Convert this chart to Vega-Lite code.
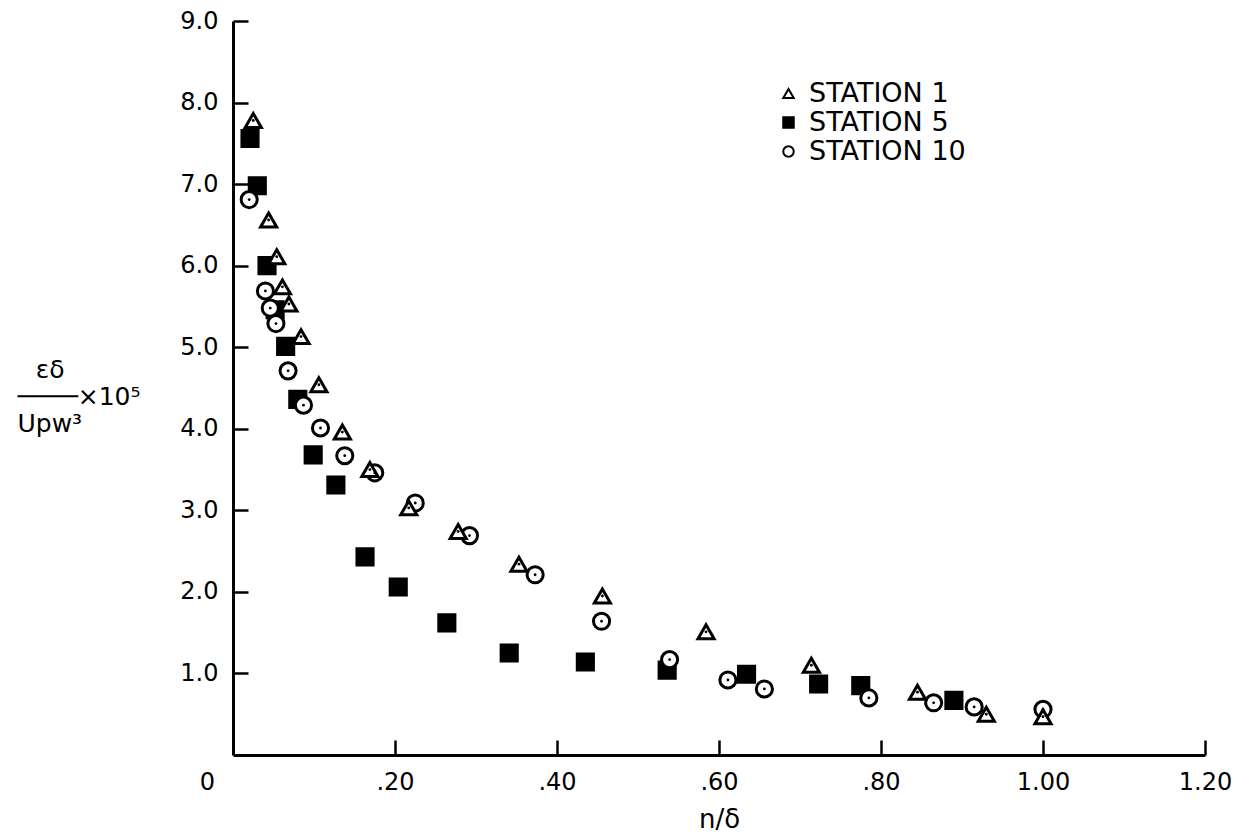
{
  "$schema": "https://vega.github.io/schema/vega-lite/v6.json",
  "width": 972,
  "height": 734,
  "autosize": {"type": "none"},
  "padding": {"left": 233, "top": 21, "right": 38, "bottom": 81},
  "background": "white",
  "config": {
    "view": {"stroke": null},
    "font": "DejaVu Sans",
    "axis": {"grid": false, "domainColor": "black", "tickColor": "black", "labelColor": "black", "titleColor": "black", "domainWidth": 3, "tickWidth": 2.5, "tickSize": 15, "labelFontSize": 24, "labelPadding": 15, "titleFontWeight": "normal", "labelOverlap": false, "labelFlush": false}
  },
  "data": {
    "values": [
      {"station": "STATION 5", "x": 0.021, "y": 7.56},
      {"station": "STATION 5", "x": 0.030, "y": 6.98},
      {"station": "STATION 5", "x": 0.042, "y": 6.00},
      {"station": "STATION 5", "x": 0.052, "y": 5.46},
      {"station": "STATION 5", "x": 0.065, "y": 5.01},
      {"station": "STATION 5", "x": 0.080, "y": 4.36},
      {"station": "STATION 5", "x": 0.099, "y": 3.68},
      {"station": "STATION 5", "x": 0.127, "y": 3.31},
      {"station": "STATION 5", "x": 0.163, "y": 2.43},
      {"station": "STATION 5", "x": 0.204, "y": 2.06},
      {"station": "STATION 5", "x": 0.264, "y": 1.62},
      {"station": "STATION 5", "x": 0.341, "y": 1.25},
      {"station": "STATION 5", "x": 0.435, "y": 1.14},
      {"station": "STATION 5", "x": 0.536, "y": 1.04},
      {"station": "STATION 5", "x": 0.634, "y": 0.99},
      {"station": "STATION 5", "x": 0.723, "y": 0.87},
      {"station": "STATION 5", "x": 0.775, "y": 0.85},
      {"station": "STATION 5", "x": 0.890, "y": 0.67},
      {"station": "STATION 10", "x": 0.020, "y": 6.81},
      {"station": "STATION 10", "x": 0.040, "y": 5.69},
      {"station": "STATION 10", "x": 0.046, "y": 5.48},
      {"station": "STATION 10", "x": 0.053, "y": 5.29},
      {"station": "STATION 10", "x": 0.068, "y": 4.71},
      {"station": "STATION 10", "x": 0.087, "y": 4.29},
      {"station": "STATION 10", "x": 0.108, "y": 4.01},
      {"station": "STATION 10", "x": 0.138, "y": 3.67},
      {"station": "STATION 10", "x": 0.175, "y": 3.46},
      {"station": "STATION 10", "x": 0.225, "y": 3.09},
      {"station": "STATION 10", "x": 0.292, "y": 2.69},
      {"station": "STATION 10", "x": 0.373, "y": 2.21},
      {"station": "STATION 10", "x": 0.455, "y": 1.64},
      {"station": "STATION 10", "x": 0.539, "y": 1.17},
      {"station": "STATION 10", "x": 0.611, "y": 0.92},
      {"station": "STATION 10", "x": 0.656, "y": 0.81},
      {"station": "STATION 10", "x": 0.785, "y": 0.70},
      {"station": "STATION 10", "x": 0.865, "y": 0.64},
      {"station": "STATION 10", "x": 0.915, "y": 0.59},
      {"station": "STATION 10", "x": 1.000, "y": 0.56},
      {"station": "STATION 1", "x": 0.025, "y": 7.78},
      {"station": "STATION 1", "x": 0.044, "y": 6.56},
      {"station": "STATION 1", "x": 0.054, "y": 6.11},
      {"station": "STATION 1", "x": 0.061, "y": 5.74},
      {"station": "STATION 1", "x": 0.069, "y": 5.53},
      {"station": "STATION 1", "x": 0.084, "y": 5.13},
      {"station": "STATION 1", "x": 0.106, "y": 4.54},
      {"station": "STATION 1", "x": 0.135, "y": 3.96},
      {"station": "STATION 1", "x": 0.169, "y": 3.50},
      {"station": "STATION 1", "x": 0.217, "y": 3.03},
      {"station": "STATION 1", "x": 0.278, "y": 2.74},
      {"station": "STATION 1", "x": 0.353, "y": 2.34},
      {"station": "STATION 1", "x": 0.456, "y": 1.95},
      {"station": "STATION 1", "x": 0.584, "y": 1.51},
      {"station": "STATION 1", "x": 0.714, "y": 1.10},
      {"station": "STATION 1", "x": 0.845, "y": 0.77},
      {"station": "STATION 1", "x": 0.930, "y": 0.50},
      {"station": "STATION 1", "x": 1.000, "y": 0.47}
    ]
  },
  "resolve": {"axis": {"x": "independent", "y": "independent"}},
  "layer": [
    {
      "mark": {"type": "point", "filled": true, "strokeWidth": 3, "size": 260, "opacity": 1},
      "encoding": {
        "x": {
          "field": "x", "type": "quantitative",
          "scale": {"domain": [0, 1.2], "nice": false, "zero": false},
          "axis": {
            "values": [0, 0.2, 0.4, 0.6, 0.8, 1.0, 1.2],
            "ticks": false,
            "labelExpr": "datum.value == 0 ? '0' : (datum.value < 1 ? substring(format(datum.value, '.2f'), 1) : format(datum.value, '.2f'))",
            "labelOffset": {"condition": {"test": "datum.value == 0", "value": -26}, "value": 0},
            "title": "n/δ",
            "titleFontSize": 26,
            "titleBaseline": "top",
            "titleY": 51
          }
        },
        "y": {
          "field": "y", "type": "quantitative",
          "scale": {"domain": [0, 9], "nice": false},
          "axis": {
            "values": [1, 2, 3, 4, 5, 6, 7, 8, 9],
            "ticks": false,
            "format": ".1f",
            "title": ["⠀εδ", "────×10⁵", "Upw³"],
            "titleAngle": 0,
            "titleAlign": "left",
            "titleBaseline": "middle",
            "titleFontSize": 25,
            "titleLineHeight": 27,
            "titleX": -216,
            "titleY": 348
          }
        },
        "shape": {
          "field": "station", "type": "nominal",
          "scale": {"domain": ["STATION 1", "STATION 5", "STATION 10"], "range": ["triangle-up", "square", "circle"]},
          "legend": {"title": null, "orient": "none", "legendX": 542, "legendY": 59, "labelFontSize": 27, "labelColor": "black", "symbolSize": 110, "symbolStrokeWidth": 2, "rowPadding": 1, "labelOffset": 7, "padding": 0}
        },
        "fill": {
          "field": "station", "type": "nominal",
          "scale": {"domain": ["STATION 1", "STATION 5", "STATION 10"], "range": ["white", "black", "white"]},
          "legend": {"title": null, "orient": "none", "legendX": 542, "legendY": 59, "labelFontSize": 27, "labelColor": "black", "symbolSize": 110, "symbolStrokeWidth": 2, "rowPadding": 1, "labelOffset": 7, "padding": 0}
        },
        "stroke": {
          "field": "station", "type": "nominal",
          "scale": {"domain": ["STATION 1", "STATION 5", "STATION 10"], "range": ["black", "black", "black"]},
          "legend": {"title": null, "orient": "none", "legendX": 542, "legendY": 59, "labelFontSize": 27, "labelColor": "black", "symbolSize": 110, "symbolStrokeWidth": 2, "rowPadding": 1, "labelOffset": 7, "padding": 0}
        }
      }
    },
    {
      "transform": [{"filter": "datum.station != 'STATION 5'"}],
      "mark": {"type": "point", "filled": true, "color": "black", "size": 8, "opacity": 1},
      "encoding": {
        "x": {"field": "x", "type": "quantitative", "axis": {"orient": "top", "offset": -734, "values": [0.2, 0.4, 0.6, 0.8, 1.0, 1.2], "domain": false, "labels": false, "title": null}},
        "y": {"field": "y", "type": "quantitative", "axis": {"orient": "right", "offset": -972, "values": [1, 2, 3, 4, 5, 6, 7, 8, 9], "domain": false, "labels": false, "title": null}}
      }
    }
  ]
}
